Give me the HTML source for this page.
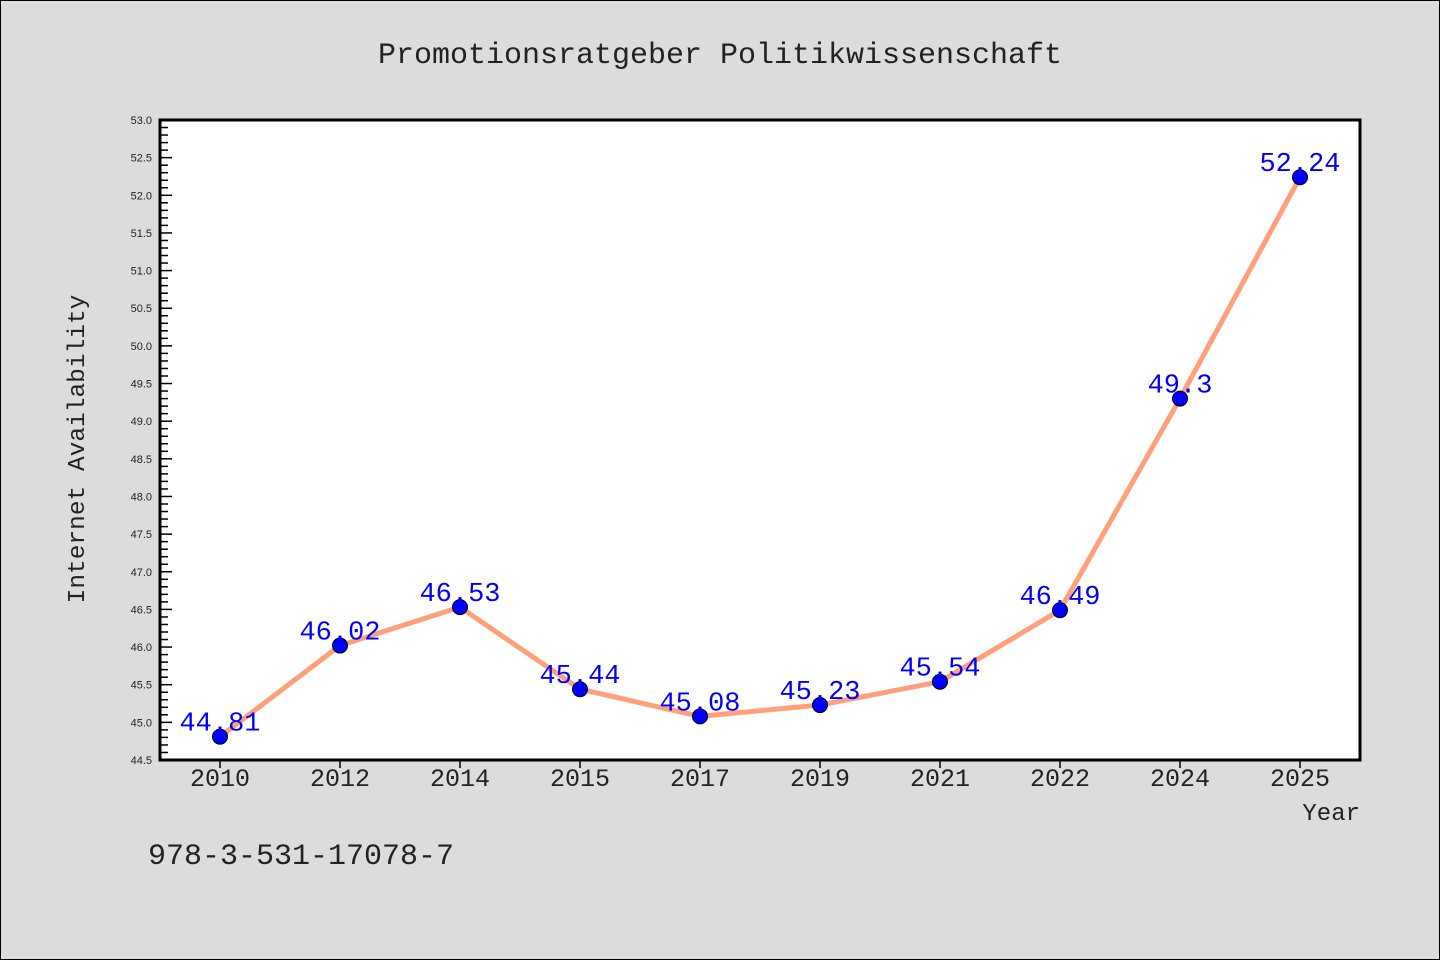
<!DOCTYPE html>
<html><head><meta charset="utf-8"><style>
body{margin:0;background:#dcdcdc;}
svg{display:block;font-family:"Liberation Mono","WenQuanYi Zen Hei",monospace;}
</style></head><body>
<svg id="c" width="1440" height="960">
<rect x="0.5" y="0.5" width="1439" height="959" fill="#dcdcdc" stroke="#000"/>
<text x="720" y="63" font-size="30" text-anchor="middle" fill="#222">Promotionsratgeber Politikwissenschaft</text>
<rect x="160" y="120" width="1200" height="640" fill="#fff"/>
<g id="g"></g>
<path d="M160 120 H1360 V760 H160 Z" fill="none" stroke="#000" stroke-width="3"/>
<text transform="translate(84,449) rotate(-90)" font-size="24.5" text-anchor="middle" fill="#222">Internet Availability</text>
<text x="1360" y="820" font-size="24" text-anchor="end" fill="#222">Year</text>
<text x="148" y="864" font-size="30" fill="#222">978-3-531-17078-7</text>
</svg>
<script>
const categories=["2010","2012","2014","2015","2017","2019","2021","2022","2024","2025"];
const values=[44.81,46.02,46.53,45.44,45.08,45.23,45.54,46.49,49.3,52.24];
const labels=["44.81","46.02","46.53","45.44","45.08","45.23","45.54","46.49","49.3","52.24"];
const yMin=44.5,yMax=53.0;
const NS="http://www.w3.org/2000/svg";
const g=document.getElementById('g');
const X=i=>220+i*(1080/(categories.length-1));
const Y=v=>760-(v-yMin)/(yMax-yMin)*640;
function mk(t,a,txt){const e=document.createElementNS(NS,t);for(const k in a)e.setAttribute(k,a[k]);if(txt!==undefined)e.textContent=txt;g.appendChild(e);return e;}
for(let k=0;k<=85;k++){const v=yMin+k*0.1;const y=Y(v);const major=k%5===0;
 const t=mk('line',{x1:160,x2:major?172:168,y1:y,y2:y,stroke:'#000','stroke-width':1.5});
 
 if(major){const l=mk('text',{x:152,y:y+4,'font-size':11,'text-anchor':'end',fill:'#222','font-family':'Liberation Sans, sans-serif'},v.toFixed(1));
 }}
categories.forEach((c,i)=>{const x=X(i);
 const t=mk('line',{x1:x,x2:x,y1:760,y2:768,stroke:'#000','stroke-width':1.5});
 
 const l=mk('text',{x:x,y:786,'font-size':25,'text-anchor':'middle',fill:'#222'},c);
 });
const line=mk('polyline',{points:values.map((v,i)=>X(i)+','+Y(v)).join(' '),fill:'none',stroke:'#ffa07a','stroke-width':5,'stroke-linejoin':'round'});

values.forEach((v,i)=>{const p=mk('circle',{cx:X(i),cy:Y(v),r:7.5,fill:'#0000ff',stroke:'#000','stroke-width':1});
 
 const l=mk('text',{x:X(i),y:Y(v)-6,'font-size':27,'text-anchor':'middle',fill:'#0000ff'},labels[i]);
 });
</script>
</body></html>
